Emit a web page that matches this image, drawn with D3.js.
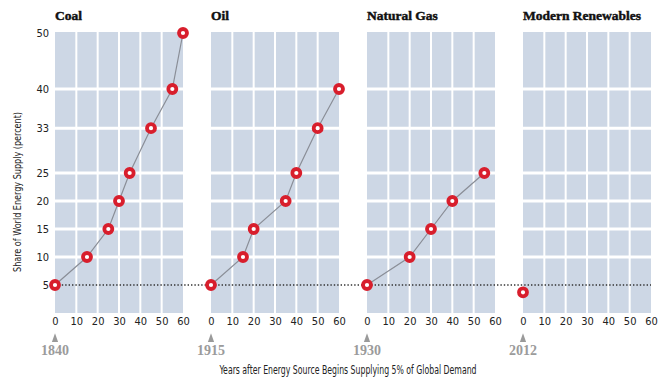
<!DOCTYPE html>
<html>
<head>
<meta charset="utf-8">
<script src="https://d3js.org/d3.v7.min.js"></script>
<style>
  body { margin: 0; background: #fff; }
  .cond { font-family: "Liberation Sans Narrow", "DejaVu Sans Condensed", sans-serif; }
</style>
</head>
<body>
<div id="chart"></div>
<script>
// chart data
const panels = ["Coal", "Oil", "Natural Gas", "Modern Renewables"];
const startYears = ["1840", "1915", "1930", "2012"];

const coalYears = [0, 15, 25, 30, 35, 45, 55, 60];
const coalShare = [5, 10, 15, 20, 25, 33, 40, 50];
const oilYears = [0, 15, 20, 35, 40, 50, 60];
const oilShare = [5, 10, 15, 20, 25, 33, 40];
const gasYears = [0, 20, 30, 40, 55];
const gasShare = [5, 10, 15, 20, 25];
const renewYears = [0];
const renewShare = [3.7];

const yTicks = [5, 10, 15, 20, 25, 33, 40, 50];
const xTicks = [0, 10, 20, 30, 40, 50, 60];

const series = [
  {years: coalYears, share: coalShare},
  {years: oilYears, share: oilShare},
  {years: gasYears, share: gasShare},
  {years: renewYears, share: renewShare}
];

const width = 660, height = 387;
const red = "#d81e2c";
const condFont = "'Liberation Sans Narrow', 'DejaVu Sans Condensed', sans-serif";

const svg = d3.select("#chart").append("svg")
  .attr("width", width)
  .attr("height", height);

// panel placement
const panelX = d3.scaleBand()
  .domain(panels)
  .range([55, 651])
  .paddingInner(28 / 156)
  .paddingOuter(0);

const y = d3.scaleLinear()
  .domain([0, 50])
  .range([313, 33]);

const x = d3.scaleLinear()
  .domain([0, 60])
  .range([0, panelX.bandwidth()]);

panels.forEach(function(name, i) {
  const g = svg.append("g")
    .attr("transform", "translate(" + panelX(name) + ",0)");

  // background
  g.append("rect")
    .attr("x", 0)
    .attr("y", y(50) - 1)
    .attr("width", panelX.bandwidth())
    .attr("height", y(0) - y(50) + 1)
    .attr("fill", "#cdd7e5");

  // white grid gaps
  g.selectAll(".vgap")
    .data(xTicks.slice(1, -1))
    .enter().append("line")
      .attr("x1", d => x(d)).attr("x2", d => x(d))
      .attr("y1", y(50) - 1).attr("y2", y(0))
      .attr("stroke", "#fff")
      .attr("stroke-width", 2);

  g.selectAll(".hgap")
    .data(yTicks.filter(d => d > 5 && d < 50))
    .enter().append("line")
      .attr("x1", 0).attr("x2", panelX.bandwidth())
      .attr("y1", d => y(d)).attr("y2", d => y(d))
      .attr("stroke", "#fff")
      .attr("stroke-width", 3);

  // title (a thin stroke makes it look heavier, like the poster serif)
  g.append("text")
    .attr("x", 0)
    .attr("y", 20)
    .attr("font-family", "'Liberation Serif', serif")
    .attr("font-weight", "bold")
    .attr("font-size", 13.5)
    .attr("fill", "#111")
    .attr("stroke", "#111")
    .attr("stroke-width", 0.45)
    .text(name);

  // x axis
  const xa = g.append("g")
    .attr("transform", "translate(0," + y(0) + ")")
    .call(d3.axisBottom(x).tickValues(xTicks).tickSize(0).tickPadding(4));
  xa.select(".domain").remove();
  xa.selectAll("text")
    .attr("font-size", 11)
    .attr("font-family", condFont)
    .attr("fill", "#222");

  // start marker
  g.append("path")
    .attr("d", d3.symbol().type(d3.symbolTriangle).size(26)())
    .attr("transform", "translate(" + x(0) + ",339) scale(0.8,1.3)")
    .attr("fill", "#9a9a9a");

  g.append("text")
    .attr("x", x(0))
    .attr("y", 355)
    .attr("text-anchor", "middle")
    .attr("font-family", "'Liberation Serif', serif")
    .attr("font-weight", "bold")
    .attr("font-size", 14)
    .attr("fill", "#9b9b9b")
    .text(startYears[i]);
});

// y axis on the first panel
const ya = svg.append("g")
  .attr("transform", "translate(" + panelX(panels[0]) + ",0)")
  .call(d3.axisLeft(y).tickValues(yTicks).tickSize(0).tickPadding(6));
ya.select(".domain").remove();
ya.selectAll("text")
  .attr("font-size", 11)
  .attr("font-family", condFont)
  .attr("fill", "#222");

// 5% reference line
svg.append("line")
  .attr("x1", panelX(panels[0]) + x(0))
  .attr("x2", panelX(panels[3]) + x(60))
  .attr("y1", y(5)).attr("y2", y(5))
  .attr("stroke", "#333")
  .attr("stroke-width", 1.3)
  .attr("stroke-dasharray", "1.4,2");

// series lines and points
const line = d3.line()
  .x(d => d[0])
  .y(d => d[1]);

series.forEach(function(s, i) {
  const ox = panelX(panels[i]);
  const pts = s.years.map((yr, j) => [ox + x(yr), y(s.share[j])]);
  if (pts.length > 1) {
    svg.append("path")
      .attr("d", line(pts))
      .attr("fill", "none")
      .attr("stroke", "#8a8e97")
      .attr("stroke-width", 1.2);
  }
  svg.append("g").selectAll("circle")
    .data(pts)
    .enter().append("circle")
      .attr("cx", d => d[0])
      .attr("cy", d => d[1])
      .attr("r", 4)
      .attr("fill", "#fff")
      .attr("stroke", red)
      .attr("stroke-width", 3.8);
});

// axis titles
svg.append("text")
  .attr("class", "cond")
  .attr("transform", "translate(21,192) rotate(-90)")
  .attr("text-anchor", "middle")
  .attr("font-size", 11)
  .attr("textLength", 160)
  .attr("lengthAdjust", "spacingAndGlyphs")
  .attr("fill", "#222")
  .text("Share of World Energy Supply (percent)");

svg.append("text")
  .attr("class", "cond")
  .attr("x", 348)
  .attr("y", 374)
  .attr("text-anchor", "middle")
  .attr("font-size", 12)
  .attr("textLength", 257)
  .attr("lengthAdjust", "spacingAndGlyphs")
  .attr("fill", "#222")
  .text("Years after Energy Source Begins Supplying 5% of Global Demand");
</script>
</body>
</html>
